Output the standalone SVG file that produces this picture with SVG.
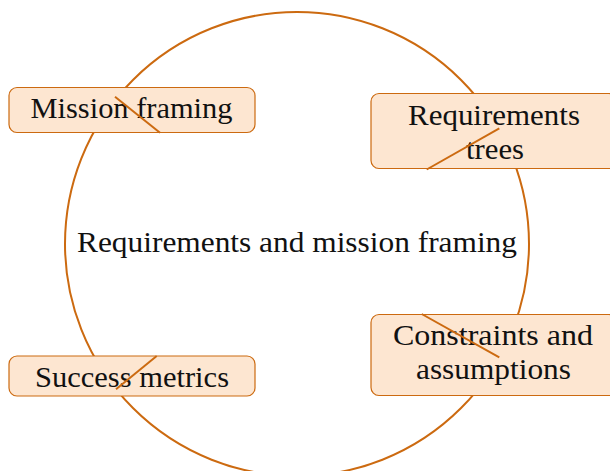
<svg xmlns="http://www.w3.org/2000/svg" width="610" height="471" viewBox="0 0 610 471">
<style>
.box{fill:#fde6d1;stroke:#cc6a10;stroke-width:1.2}
.ring{fill:none;stroke:#cc6a10;stroke-width:2}
.edge{stroke:#cc6a10;stroke-width:2;fill:none}
text{font-family:"Liberation Serif","Times New Roman",serif;font-size:30px;fill:#111111;text-anchor:middle}
</style>
<rect width="610" height="471" fill="#ffffff"/>
<g id="hub">
<circle class="ring" cx="297" cy="244" r="232"/>
<text x="297" y="252" textLength="440" lengthAdjust="spacingAndGlyphs">Requirements and mission framing</text>
</g>
<g id="mission-framing">
<rect class="box" x="9" y="87.5" width="246" height="45" rx="8"/>
<text x="131.5" y="117.5" textLength="202" lengthAdjust="spacingAndGlyphs">Mission framing</text>
</g>
<g id="requirements-trees">
<rect class="box" x="371" y="93.5" width="246" height="75" rx="8"/>
<text x="494" y="124.5" textLength="172" lengthAdjust="spacingAndGlyphs">Requirements</text>
<text x="495" y="159" textLength="58" lengthAdjust="spacingAndGlyphs">trees</text>
</g>
<g id="success-metrics">
<rect class="box" x="9" y="356" width="246" height="40" rx="8"/>
<text x="132" y="386.5" textLength="194" lengthAdjust="spacingAndGlyphs">Success metrics</text>
</g>
<g id="constraints-assumptions">
<rect class="box" x="371" y="314.5" width="246" height="81" rx="8"/>
<text x="493" y="344.5" textLength="200" lengthAdjust="spacingAndGlyphs">Constraints and</text>
<text x="493.5" y="379" textLength="155" lengthAdjust="spacingAndGlyphs">assumptions</text>
</g>
<g id="connectors">
<line class="edge" x1="115" y1="96.7" x2="160" y2="132.7"/>
<line class="edge" x1="426.7" y1="169.5" x2="499.3" y2="128.3"/>
<line class="edge" x1="116" y1="389.3" x2="156.7" y2="356"/>
<line class="edge" x1="421.7" y1="314" x2="499.3" y2="357.3"/>
</g>
</svg>
